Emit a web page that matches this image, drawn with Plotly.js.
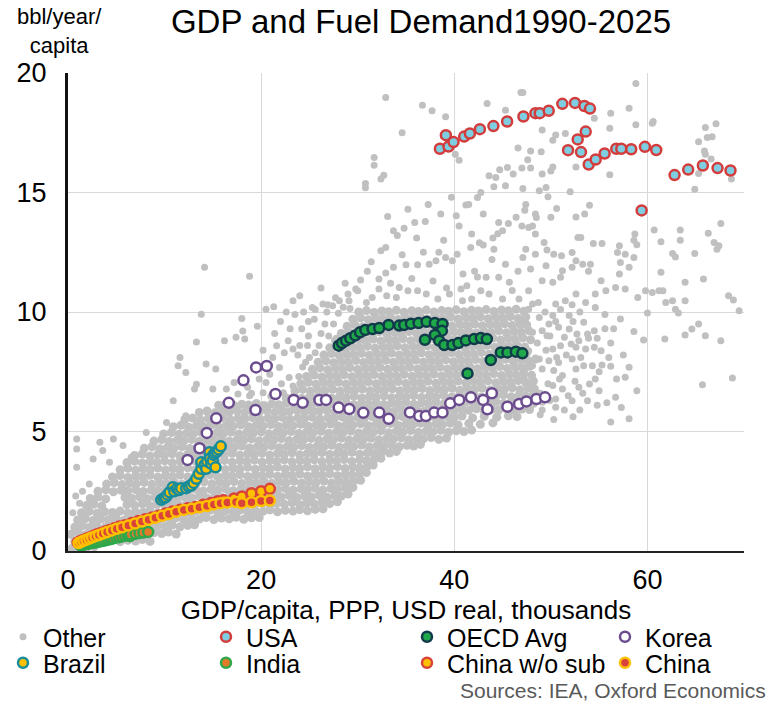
<!DOCTYPE html>
<html><head><meta charset="utf-8">
<script src="https://cdn.plot.ly/plotly-3.0.1.min.js"></script>
<style>html,body{margin:0;padding:0;background:#fff}#chart{width:771px;height:701px}</style>
</head><body><div id="chart"></div>
<script>
// ---------- DATA (GDP/capita thousands USD PPP, bbl/year/capita) ----------
// "Other" countries: dense core of the cloud
const otherCorePts = [
[0.4,.10],[1.1,.16],[1.9,.12],[2.7,.18],
[0.7,.40],[1.5,.46],[2.2,.38],[3.0,.44],[3.9,.41],[4.6,.47],[5.4,.39],[6.2,.45],[7.0,.42],[7.7,.48],[8.5,.40],
[0.3,.70],[1.1,.76],[1.8,.68],[2.6,.74],[3.5,.71],[4.2,.77],[5.0,.69],[5.8,.75],[6.6,.72],[7.3,.78],[8.1,.70],[8.9,.76],[9.7,.73],[10.4,.79],[11.2,.71],
[0.7,1.0],[1.5,1.06],[2.2,.98],[3.0,1.04],[3.9,1.01],[4.6,1.07],[5.4,.99],[6.2,1.05],[7.0,1.02],[7.7,1.08],[8.5,1.0],[9.3,1.06],[10.1,1.03],[10.8,1.09],[11.6,1.01],[12.4,1.07],[13.1,1.1],
[1.0,1.30],[1.8,1.36],[2.6,1.28],[3.4,1.34],[4.2,1.31],[5.0,1.37],[5.8,1.29],[6.6,1.35],[7.4,1.32],[8.1,1.38],[8.9,1.30],[9.7,1.36],[10.5,1.33],[11.2,1.39],[12.0,1.31],[12.8,1.37],[13.6,1.34],[14.3,1.40],[15.1,1.32],[15.9,1.38],[16.7,1.35],[17.4,1.41],[18.2,1.33],[19.0,1.39],[19.8,1.40],
[1.4,1.60],[2.2,1.66],[3.0,1.58],[3.8,1.64],[4.6,1.61],[5.4,1.67],[6.2,1.59],[7.0,1.65],[7.8,1.62],[8.5,1.68],[9.3,1.60],[10.1,1.66],[10.9,1.63],[11.6,1.69],[12.4,1.61],[13.2,1.67],[14.0,1.64],[14.7,1.70],[15.5,1.62],[16.3,1.68],[17.1,1.65],[17.8,1.71],[18.6,1.63],[19.4,1.69],[20.2,1.66],[20.9,1.72],[21.7,1.64],[22.5,1.70],[23.3,1.67],[24.0,1.73],[24.8,1.68],[25.6,1.74],[26.4,1.76],
[1.9,1.90],[2.7,1.96],[3.5,1.88],[6.1,1.94],[6.9,1.91],[7.7,1.97],[8.5,1.89],[9.2,1.95],[10.0,1.92],[10.8,1.98],[11.6,1.90],[12.3,1.96],[13.1,1.93],[13.9,1.99],[14.7,1.91],[15.4,1.97],[16.2,1.94],[17.0,2.0],[17.8,1.92],[18.5,1.98],[19.3,1.95],[20.1,2.01],[20.9,1.93],[21.6,1.99],[22.4,1.96],[23.2,2.02],[24.0,1.94],[24.7,2.0],[25.5,1.97],[26.3,2.03],[27.1,1.98],[27.9,2.06],
[2.3,2.20],[3.1,2.26],[3.9,2.18],[5.9,2.24],[6.6,2.21],[7.4,2.27],[8.2,2.19],[9.0,2.25],[9.7,2.22],[10.5,2.28],[11.3,2.20],[12.1,2.26],[12.8,2.23],[13.6,2.29],[14.4,2.21],[15.2,2.27],[15.9,2.24],[16.7,2.30],[17.5,2.22],[18.3,2.28],[19.0,2.25],[19.8,2.31],[20.6,2.23],[21.4,2.29],[22.1,2.26],[22.9,2.32],[23.7,2.24],[24.5,2.30],[25.2,2.27],[26.0,2.33],[26.8,2.25],[27.6,2.31],[28.3,2.30],[29.0,2.38],
[3.1,2.50],[3.9,2.56],[4.7,2.48],[5.5,2.54],[6.2,2.51],[7.0,2.57],[7.8,2.49],[8.6,2.55],[9.3,2.52],[10.1,2.58],[10.9,2.50],[11.7,2.56],[12.4,2.53],[13.2,2.59],[14.0,2.51],[14.8,2.57],[15.5,2.54],[16.3,2.60],[17.1,2.52],[17.9,2.58],[18.6,2.55],[19.4,2.61],[20.2,2.53],[21.0,2.59],[21.7,2.56],[22.5,2.62],[23.3,2.54],[24.1,2.60],[24.8,2.57],[25.6,2.63],[26.4,2.55],[27.2,2.61],[27.9,2.58],[28.7,2.64],[29.5,2.66],
[4.0,2.80],[4.8,2.86],[5.6,2.78],[6.4,2.84],[7.1,2.81],[7.9,2.87],[8.7,2.79],[9.5,2.85],[10.2,2.82],[11.0,2.88],[11.8,2.80],[12.6,2.86],[13.3,2.83],[14.1,2.89],[14.9,2.81],[15.7,2.87],[16.4,2.84],[17.2,2.90],[18.0,2.82],[18.8,2.88],[19.5,2.85],[20.3,2.91],[21.1,2.83],[21.9,2.89],[22.6,2.86],[23.4,2.92],[24.2,2.84],[25.0,2.90],[25.7,2.87],[26.5,2.93],[27.3,2.85],[28.1,2.91],[28.8,2.88],[29.6,2.94],[30.3,2.96],
[4.6,3.10],[5.4,3.16],[6.2,3.08],[7.0,3.14],[7.7,3.11],[8.5,3.17],[9.3,3.09],[10.1,3.15],[10.8,3.12],[11.6,3.18],[12.4,3.10],[13.2,3.16],[13.9,3.13],[14.7,3.19],[15.5,3.11],[16.3,3.17],[17.0,3.14],[17.8,3.20],[18.6,3.12],[19.4,3.18],[20.1,3.15],[20.9,3.21],[21.7,3.13],[22.5,3.19],[23.2,3.16],[24.0,3.22],[24.8,3.14],[25.6,3.20],[26.3,3.17],[27.1,3.23],[27.9,3.15],[28.7,3.21],[29.4,3.18],[30.2,3.24],[30.9,3.28],
[5.4,3.40],[6.2,3.46],[7.0,3.38],[7.8,3.44],[8.5,3.41],[9.3,3.47],[10.1,3.39],[10.9,3.45],[11.6,3.42],[12.4,3.48],[13.2,3.40],[14.0,3.46],[14.7,3.43],[15.5,3.49],[16.3,3.41],[17.1,3.47],[17.8,3.44],[18.6,3.50],[19.4,3.42],[20.2,3.48],[20.9,3.45],[21.7,3.51],[22.5,3.43],[23.3,3.49],[24.0,3.46],[24.8,3.52],[25.6,3.44],[26.4,3.50],[27.1,3.47],[27.9,3.53],[28.7,3.45],[29.5,3.51],[30.2,3.48],[31.0,3.54],[31.6,3.60],
[6.1,3.70],[6.9,3.76],[7.7,3.68],[8.5,3.74],[9.2,3.71],[10.0,3.77],[10.8,3.69],[11.6,3.75],[12.3,3.72],[13.1,3.78],[13.9,3.70],[14.7,3.76],[15.4,3.73],[16.2,3.79],[17.0,3.71],[17.8,3.77],[18.5,3.74],[19.3,3.80],[20.1,3.72],[20.9,3.78],[21.6,3.75],[22.4,3.81],[23.2,3.73],[24.0,3.79],[24.7,3.76],[25.5,3.82],[26.3,3.74],[27.1,3.80],[27.8,3.77],[28.6,3.83],[29.4,3.75],[30.2,3.81],[30.9,3.78],[31.7,3.84],[32.4,3.88],
[6.9,4.00],[7.7,4.06],[8.5,3.98],[9.3,4.04],[10.0,4.01],[10.8,4.07],[11.6,3.99],[12.4,4.05],[13.1,4.02],[13.9,4.08],[14.7,4.00],[15.5,4.06],[16.2,4.03],[17.0,4.09],[17.8,4.01],[18.6,4.07],[19.3,4.04],[20.1,4.10],[20.9,4.02],[21.7,4.08],[22.4,4.05],[23.2,4.11],[24.0,4.03],[24.8,4.09],[25.5,4.06],[26.3,4.12],[27.1,4.04],[27.9,4.10],[28.6,4.07],[29.4,4.13],[30.2,4.05],[31.0,4.11],[31.7,4.08],[32.5,4.14],[33.3,4.10],[34.0,4.16],
[7.9,4.30],[8.7,4.36],[9.5,4.28],[10.3,4.34],[11.0,4.31],[11.8,4.37],[12.6,4.29],[13.4,4.35],[14.1,4.32],[14.9,4.38],[15.7,4.30],[16.5,4.36],[17.2,4.33],[18.0,4.39],[18.8,4.31],[19.6,4.37],[20.3,4.34],[21.1,4.40],[21.9,4.32],[22.7,4.38],[23.4,4.35],[24.2,4.41],[25.0,4.33],[25.8,4.39],[26.5,4.36],[27.3,4.42],[28.1,4.34],[28.9,4.40],[29.6,4.37],[30.4,4.43],[31.2,4.35],[32.0,4.41],[32.7,4.38],[33.5,4.44],[34.3,4.36],[35.1,4.42],[35.8,4.39],[36.5,4.46],
[8.9,4.60],[9.7,4.66],[10.5,4.58],[11.3,4.64],[12.0,4.61],[12.8,4.67],[13.6,4.59],[14.4,4.65],[15.1,4.62],[15.9,4.68],[16.7,4.60],[17.5,4.66],[18.2,4.63],[19.0,4.69],[19.8,4.61],[20.6,4.67],[21.3,4.64],[22.1,4.70],[22.9,4.62],[23.7,4.68],[24.4,4.65],[25.2,4.71],[26.0,4.63],[26.8,4.69],[27.5,4.66],[28.3,4.72],[29.1,4.64],[29.9,4.70],[30.6,4.67],[31.4,4.73],[32.2,4.65],[33.0,4.71],[33.7,4.68],[34.5,4.74],[35.3,4.66],[36.1,4.72],[36.8,4.69],[37.6,4.75],[38.4,4.67],[39.2,4.73],
[9.9,4.90],[10.7,4.96],[11.5,4.88],[12.3,4.94],[13.0,4.91],[13.8,4.97],[14.6,4.89],[15.4,4.95],[16.1,4.92],[16.9,4.98],[17.7,4.90],[18.5,4.96],[19.2,4.93],[20.0,4.99],[20.8,4.91],[21.6,4.97],[22.3,4.94],[23.1,5.00],[23.9,4.92],[24.7,4.98],[25.4,4.95],[26.2,5.01],[27.0,4.93],[27.8,4.99],[28.5,4.96],[29.3,5.02],[30.1,4.94],[30.9,5.00],[31.6,4.97],[32.4,5.03],[33.2,4.95],[34.0,5.01],[34.7,4.98],[35.5,5.04],[36.3,4.96],[37.1,5.02],[37.8,4.99],[38.6,5.05],[39.4,4.97],[40.2,5.03],[41.0,5.00],[41.8,5.06],
[10.9,5.20],[11.7,5.26],[12.5,5.18],[13.3,5.24],[14.0,5.21],[14.8,5.27],[15.6,5.19],[16.4,5.25],[17.1,5.22],[17.9,5.28],[18.7,5.20],[19.5,5.26],[20.2,5.23],[21.0,5.29],[21.8,5.21],[22.6,5.27],[23.3,5.24],[24.1,5.30],[24.9,5.22],[25.7,5.28],[26.4,5.25],[27.2,5.31],[28.0,5.23],[28.8,5.29],[29.5,5.26],[30.3,5.32],[31.1,5.24],[31.9,5.30],[32.6,5.27],[33.4,5.33],[34.2,5.25],[35.0,5.31],[35.7,5.28],[36.5,5.34],[37.3,5.26],[38.1,5.32],[38.8,5.29],[39.6,5.35],[40.4,5.27],[41.5,5.33],[42.7,5.30],[44.0,5.36],
[12.1,5.50],[12.9,5.56],[13.7,5.48],[14.5,5.54],[15.2,5.51],[16.0,5.57],[16.8,5.49],[17.6,5.55],[18.3,5.52],[19.1,5.58],[19.9,5.50],[20.7,5.56],[21.4,5.53],[22.2,5.59],[23.0,5.51],[23.8,5.57],[24.5,5.54],[25.3,5.60],[26.1,5.52],[26.9,5.58],[27.6,5.55],[28.4,5.61],[29.2,5.53],[30.0,5.59],[30.7,5.56],[31.5,5.62],[32.3,5.54],[33.1,5.60],[33.8,5.57],[34.6,5.63],[35.4,5.55],[36.2,5.61],[36.9,5.58],[37.7,5.64],[38.5,5.56],[39.3,5.62],[40.0,5.59],[40.8,5.65],[41.9,5.57],[43.1,5.63],[44.4,5.60],[45.6,5.66],[46.5,5.62],
[13.6,5.80],[14.4,5.86],[15.2,5.78],[16.0,5.84],[16.7,5.81],[17.5,5.87],[18.3,5.79],[19.1,5.85],[19.8,5.82],[20.6,5.88],[21.4,5.80],[22.2,5.86],[22.9,5.83],[23.7,5.89],[24.5,5.81],[25.3,5.87],[26.0,5.84],[26.8,5.90],[27.6,5.82],[28.4,5.88],[29.1,5.85],[29.9,5.91],[30.7,5.83],[31.5,5.89],[32.2,5.86],[33.0,5.92],[33.8,5.84],[34.6,5.90],[35.3,5.87],[36.1,5.93],[36.9,5.85],[37.7,5.91],[38.4,5.88],[39.2,5.94],[40.0,5.86],[40.8,5.92],[41.5,5.89],[42.3,5.95],[43.1,5.87],[43.9,5.93],[44.6,5.90],[45.4,5.96],[46.2,5.88],[47.0,5.94],[47.8,5.92],
[15.6,6.10],[16.4,6.16],[17.2,6.08],[18.0,6.14],[18.7,6.11],[19.5,6.17],[20.3,6.09],[21.1,6.15],[21.8,6.12],[22.6,6.18],[23.4,6.10],[24.2,6.16],[24.9,6.13],[25.7,6.19],[26.5,6.11],[27.3,6.17],[28.0,6.14],[28.8,6.20],[29.6,6.12],[30.4,6.18],[31.1,6.15],[31.9,6.21],[32.7,6.13],[33.5,6.19],[34.2,6.16],[35.0,6.22],[35.8,6.14],[36.6,6.20],[37.3,6.17],[38.1,6.23],[38.9,6.15],[39.7,6.21],[40.4,6.18],[41.2,6.24],[42.0,6.16],[42.8,6.22],[43.5,6.19],[44.3,6.25],[45.1,6.17],[45.9,6.23],[46.6,6.20],[47.4,6.26],[48.2,6.18],
[22.6,6.40],[23.4,6.46],[24.2,6.38],[25.0,6.44],[25.7,6.41],[26.5,6.47],[27.3,6.39],[28.1,6.45],[28.8,6.42],[29.6,6.48],[30.4,6.40],[31.2,6.46],[31.9,6.43],[32.7,6.49],[33.5,6.41],[34.3,6.47],[35.0,6.44],[35.8,6.50],[36.6,6.42],[37.4,6.48],[38.1,6.45],[38.9,6.51],[39.7,6.43],[40.5,6.49],[41.2,6.46],[42.0,6.52],[42.8,6.44],[43.6,6.50],[44.3,6.47],[45.1,6.53],[45.9,6.45],[46.7,6.51],[47.4,6.48],[48.2,6.54],
[23.5,6.70],[24.3,6.76],[25.1,6.68],[25.9,6.74],[26.6,6.71],[27.4,6.77],[28.2,6.69],[29.0,6.75],[29.7,6.72],[30.5,6.78],[31.3,6.70],[32.1,6.76],[32.8,6.73],[33.6,6.79],[34.4,6.71],[35.2,6.77],[35.9,6.74],[36.7,6.80],[37.5,6.72],[38.3,6.78],[39.0,6.75],[39.8,6.81],[40.6,6.73],[41.4,6.79],[42.1,6.76],[42.9,6.82],[43.7,6.74],[44.5,6.80],[45.2,6.77],[46.0,6.83],[46.8,6.75],[47.6,6.81],[48.3,6.78],
[24.1,7.00],[24.9,7.06],[25.7,6.98],[26.5,7.04],[27.2,7.01],[28.0,7.07],[28.8,6.99],[29.6,7.05],[30.3,7.02],[31.1,7.08],[31.9,7.00],[32.7,7.06],[33.4,7.03],[34.2,7.09],[35.0,7.01],[35.8,7.07],[36.5,7.04],[37.3,7.10],[38.1,7.02],[38.9,7.08],[39.6,7.05],[40.4,7.11],[41.2,7.03],[42.0,7.09],[42.7,7.06],[43.5,7.12],[44.3,7.04],[45.1,7.10],[45.8,7.07],[46.6,7.13],[47.4,7.05],[48.2,7.11],
[24.7,7.30],[25.5,7.36],[26.3,7.28],[27.1,7.34],[27.8,7.31],[28.6,7.37],[29.4,7.29],[30.2,7.35],[30.9,7.32],[31.7,7.38],[32.5,7.30],[33.3,7.36],[34.0,7.33],[34.8,7.39],[35.6,7.31],[36.4,7.37],[37.1,7.34],[37.9,7.40],[38.7,7.32],[39.5,7.38],[40.2,7.35],[41.0,7.41],[41.8,7.33],[42.6,7.39],[43.3,7.36],[44.1,7.42],[44.9,7.34],[45.7,7.40],[46.4,7.37],[47.2,7.43],[48.0,7.35],
[25.3,7.60],[26.1,7.66],[26.9,7.58],[27.7,7.64],[28.4,7.61],[29.2,7.67],[30.0,7.59],[30.8,7.65],[31.5,7.62],[32.3,7.68],[33.1,7.60],[33.9,7.66],[34.6,7.63],[35.4,7.69],[36.2,7.61],[37.0,7.67],[37.7,7.64],[38.5,7.70],[39.3,7.62],[40.1,7.68],[40.8,7.65],[41.6,7.71],[42.4,7.63],[43.2,7.69],[43.9,7.66],[44.7,7.72],[45.5,7.64],[46.3,7.70],[47.0,7.67],[47.8,7.73],
[25.9,7.90],[26.7,7.96],[27.5,7.88],[28.3,7.94],[29.0,7.91],[29.8,7.97],[30.6,7.89],[31.4,7.95],[32.1,7.92],[32.9,7.98],[33.7,7.90],[34.5,7.96],[35.2,7.93],[36.0,7.99],[36.8,7.91],[37.6,7.97],[38.3,7.94],[39.1,8.00],[39.9,7.92],[40.7,7.98],[41.4,7.95],[42.2,8.01],[43.0,7.93],[43.8,7.99],[44.5,7.96],[45.3,8.02],[46.1,7.94],[46.9,8.00],[47.6,7.97],[48.4,8.03],
[26.5,8.20],[27.3,8.26],[28.1,8.18],[28.9,8.24],[29.6,8.21],[30.4,8.27],[31.2,8.19],[32.0,8.25],[32.7,8.22],[33.5,8.28],[34.3,8.20],[35.1,8.26],[35.8,8.23],[36.6,8.29],[37.4,8.21],[38.2,8.27],[38.9,8.24],[39.7,8.30],[40.5,8.22],[41.3,8.28],[42.0,8.25],[42.8,8.31],[43.6,8.23],[44.4,8.29],[45.1,8.26],[45.9,8.32],[46.7,8.24],[47.5,8.30],
[27.1,8.50],[27.9,8.56],[28.7,8.48],[29.5,8.54],[30.2,8.51],[31.0,8.57],[31.8,8.49],[32.6,8.55],[33.3,8.52],[34.1,8.58],[34.9,8.50],[35.7,8.56],[36.4,8.53],[37.2,8.59],[38.0,8.51],[38.8,8.57],[39.5,8.54],[40.3,8.60],[41.1,8.52],[41.9,8.58],[42.6,8.55],[43.4,8.61],[44.2,8.53],[45.0,8.59],[45.7,8.56],[46.5,8.62],[47.3,8.54],
[27.7,8.80],[28.5,8.86],[29.3,8.78],[30.1,8.84],[30.8,8.81],[31.6,8.87],[32.4,8.79],[33.2,8.85],[33.9,8.82],[34.7,8.88],[35.5,8.80],[36.3,8.86],[37.0,8.83],[37.8,8.89],[38.6,8.81],[39.4,8.87],[40.1,8.84],[40.9,8.90],[41.7,8.82],[42.5,8.88],[43.2,8.85],[44.0,8.91],[44.8,8.83],[45.6,8.89],[46.3,8.86],[47.1,8.92],[47.9,8.84],
[28.3,9.10],[29.1,9.16],[29.9,9.08],[30.7,9.14],[31.4,9.11],[32.2,9.17],[33.0,9.09],[33.8,9.15],[34.5,9.12],[35.3,9.18],[36.1,9.10],[36.9,9.16],[37.6,9.13],[38.4,9.19],[39.2,9.11],[40.0,9.17],[40.7,9.14],[41.5,9.20],[42.3,9.12],[43.1,9.18],[43.8,9.15],[44.6,9.21],[45.4,9.13],[46.2,9.19],[46.9,9.16],[47.7,9.22],
[28.9,9.40],[29.7,9.46],[30.5,9.38],[31.3,9.44],[32.0,9.41],[32.8,9.47],[33.6,9.39],[34.4,9.45],[35.1,9.42],[35.9,9.48],[36.7,9.40],[37.5,9.46],[38.2,9.43],[39.0,9.49],[39.8,9.41],[40.6,9.47],[41.3,9.44],[42.1,9.50],[42.9,9.42],[43.7,9.48],[44.4,9.45],[45.2,9.51],[46.0,9.43],[46.8,9.49],[47.5,9.46],
[29.5,9.70],[30.3,9.76],[31.1,9.68],[31.9,9.74],[32.6,9.71],[33.4,9.77],[34.2,9.69],[35.0,9.75],[35.7,9.72],[36.5,9.78],[37.3,9.70],[38.1,9.76],[38.8,9.73],[39.6,9.79],[40.4,9.71],[41.2,9.77],[41.9,9.74],[42.7,9.80],[43.5,9.72],[44.3,9.78],[45.0,9.75],[45.8,9.81],[46.6,9.73],[47.4,9.79],
[30.1,10.00],[30.9,10.06],[31.7,9.98],[32.5,10.04],[33.2,10.01],[34.0,10.07],[34.8,9.99],[35.6,10.05],[36.3,10.02],[37.1,10.08],[37.9,10.00],[38.7,10.06],[39.4,10.03],[40.2,10.09],[41.0,10.01],[41.8,10.07],[42.5,10.04],[43.3,10.10],[44.1,10.02],[44.9,10.08],[45.6,10.05],[46.4,10.11],[47.2,10.03]
];
// "Other" countries: scattered points outside the core
const otherScatterPts = [
[20.2,6.62],[21.0,6.48],[22.3,6.62],[21.6,8.59],[22.8,8.80],[23.3,8.45],[21.9,7.68],[22.9,7.26],[23.3,6.90],[20.5,7.05],[22.0,9.6],[23.5,9.9],[24.2,9.3],[24.8,8.6],[25.5,9.7],[26.2,9.1],[26.8,10.0],[27.5,9.5],[28.0,9.95],[25.0,8.1],[24.3,7.7],[23.8,8.2],[26.0,8.6],[27.0,9.0],[28.5,10.2],[29.2,10.15],[24.9,9.0],[25.6,8.3],[27.8,8.9],[26.6,9.5],[23.9,7.3],[24.6,7.9],
[19.8,7.2],[20.9,7.4],[21.2,8.1],[22.4,8.3],[22.1,7.0],[23.0,9.3],[24.0,8.6],[24.9,9.6],[25.6,10.1],[26.9,10.3],[27.7,10.6],[21.4,9.1],[20.2,8.4],[19.6,9.4],[22.6,10.0],[24.4,10.0],
[17.6,6.57],[18.6,6.85],[17.2,7.05],[16.4,6.78],[15.0,6.78],[18.8,6.5],[19.0,6.6],
[13.8,9.91],[18.0,9.73],[18.1,9.21],[17.4,8.94],[18.3,8.87],[16.2,8.8],[13.3,8.75],[11.6,8.10],[11.4,7.75],[12.2,7.47],[14.3,7.82],[15.3,7.61],[13.3,6.98],[13.1,6.78],[10.9,6.29],[20.3,6.08],[12.2,5.66],[10.2,5.38],[8.1,4.96],[5.7,4.41],[4.7,4.69],[3.3,4.55],[3.6,4.2],[0.9,4.69],[0.9,4.27],[0.9,3.5],[2.6,3.85],[4.3,3.71],[6.55,3.92],[14.14,11.87],[18.8,11.5],[21.3,10.22],[20.5,10.12],[0.8,2.3],[1.5,2.5],[2.2,2.8],[1.2,2.0],[0.5,1.6],
[32.9,18.97],[34.6,17.5],[31.7,16.46],[31.7,16.14],[32.4,15.56],[32.7,15.72],[30.8,15.38],[30.8,15.2],[36.7,18.65],[37.7,18.42],[39.1,18.17],[40.1,16.6],[40.5,16.35],[43.4,18.72],[45.3,18.44],[46.9,19.18],[46.6,16.86],[47.0,16.02],[43.6,15.70],[44.7,15.95],[44.3,15.63],[44.1,15.24],[45.3,15.28],[46.1,15.77],[45.5,16.05],[42.75,15.0],[42.4,14.79],[41.5,14.5],[41.2,14.48],[38.6,14.1],[40.2,14.03],[40.5,13.6],[37.0,13.79],[35.9,13.75],[34.8,13.5],[33.7,13.4],[34.1,13.2],[32.9,12.7],[32.4,12.56],[41.8,13.26],[42.6,12.9],[43.0,12.8],[41.7,12.7],[44.0,13.1],[44.5,13.27],[45.0,13.4],[45.6,13.7],[44.6,13.75],[46.4,13.96],[47.0,13.6],[44.1,12.63],[38.4,12.5],[38.1,12.14],[37.4,12.0],[36.2,11.98],[35.0,11.98],[33.7,11.87],[32.9,11.63],[32.2,11.38],[30.3,11.34],[29.8,10.96],[29.0,10.75],[28.1,10.47],[26.4,10.33],[24.0,10.68],[23.3,10.47],[39.1,12.28],[39.8,12.14],[40.3,12.42],[40.9,11.59],[42.1,11.7],[42.4,11.46],[43.3,11.45],[44.6,11.45],[45.7,11.24],[46.0,10.9],[46.7,10.54],[45.0,10.54],[43.6,10.75],[42.75,10.89],[41.8,10.54],[40.85,10.47],[40.7,10.96],[39.5,10.75],[38.3,10.54],[37.1,10.75],[36.2,10.89],[35.2,10.89],[34.3,11.03],[34.0,10.61],[33.0,10.68],[32.2,10.96],[31.5,10.61],[30.9,10.4],[30.0,10.89],[29.1,10.47],[27.4,10.26],[25.3,10.19],
[31.0,11.7],[33.4,11.2],[35.6,11.4],[37.8,11.3],[39.2,11.0],[41.3,11.1],[43.9,12.2],[45.3,12.0],[46.6,11.7],[36.8,12.5],[34.6,12.4],[31.4,12.1],[28.7,11.2],[26.2,11.0],[38.9,13.0],[36.1,13.1],[43.0,14.1],[39.7,14.8],[37.3,14.5],[35.2,14.3],[33.1,14.0],
[47.1,19.18],[58.8,19.56],[58.1,18.53],[56.2,18.32],[54.5,18.11],[58.8,17.83],[56.1,17.69],[60.6,17.97],[60.5,17.9],[51.5,17.47],[50.5,17.41],[50.2,17.19],[49.1,17.62],[47.9,16.74],[49.0,16.71],[47.6,16.37],[47.9,16.02],[49.1,15.77],[50.2,16.07],[50.0,15.9],[47.1,15.17],[48.8,15.07],[49.5,15.21],[49.7,14.82],[52.0,15.03],[52.6,16.07],[56.1,15.74],[65.3,17.12],[66.2,17.3],[66.7,17.33],[66.0,17.72],[67.1,17.88],[65.9,16.74],[66.0,16.6],[66.6,16.4],[65.3,15.79],[68.7,15.56],[64.9,15.14],[47.4,14.5],[47.3,14.26],[48.4,14.1],[48.5,13.95],[50.0,13.96],[50.6,14.33],[52.6,13.98],[53.5,14.1],[54.0,14.47],[47.7,13.54],[48.1,13.6],[48.4,13.26],[47.4,12.63],[47.1,12.28],[47.9,11.8],[48.4,12.42],[49.3,12.91],[49.6,12.59],[50.3,12.42],[51.1,12.35],[52.2,12.49],[52.8,13.12],[53.1,13.12],[54.4,12.87],[55.3,12.87],[52.6,12.14],[53.3,12.0],[54.1,12.0],[53.9,11.7],[52.2,11.87],[51.2,11.73],[51.0,11.45],[49.5,11.94],[49.1,11.31],[50.2,11.24],[47.7,10.89],[48.1,10.33],[50.5,10.33],[51.5,10.47],[52.6,10.75],[54.6,10.75],[55.2,11.31],[55.7,10.89],[56.9,12.49],[57.1,12.77],[57.7,12.42],[57.2,12.07],[58.1,11.87],[58.6,12.28],[58.7,13.26],[58.6,13.0],[58.9,12.81],[57.1,11.59],[56.7,11.03],[57.7,10.96],[59.0,10.61],[59.8,10.89],[60.5,10.82],[61.2,10.89],[61.6,10.89],[61.9,10.4],[62.6,10.47],[63.9,10.47],[60.7,13.43],[61.4,12.94],[62.6,12.45],[62.9,12.3],[63.4,13.43],[63.4,13.0],[64.9,12.45],[65.8,11.38],[66.3,13.29],[66.9,12.91],[67.4,12.77],[67.6,13.7],[67.2,12.63],[68.4,10.68],[68.9,10.5],[61.4,11.66],[63.9,11.24],
[47.7,10.12],[47.0,9.57],[48.8,9.77],[50.2,9.85],[51.9,9.85],[54.6,10.19],[53.4,9.57],[54.5,9.22],[53.8,9.08],[52.7,9.08],[51.9,9.29],[50.8,9.36],[49.8,9.5],[49.1,9.22],[48.1,9.15],[49.6,9.01],[51.4,8.94],[52.1,8.66],[51.0,8.59],[50.2,8.45],[52.6,8.52],[53.6,8.45],[54.5,8.52],[55.2,8.38],[53.1,8.1],[52.2,8.03],[50.8,7.89],[49.8,7.96],[48.8,8.03],[48.1,7.75],[49.1,7.62],[50.3,7.55],[51.2,7.34],[52.6,7.62],[53.4,7.75],[54.3,7.75],[55.3,7.78],[56.2,7.73],[58.1,7.69],[57.7,7.27],[54.0,6.99],[52.9,6.85],[51.2,6.78],[50.2,6.92],[58.9,6.71],[56.7,6.43],[53.8,6.29],[52.2,6.29],[50.5,6.01],[49.1,5.9],[52.3,5.62],[56.2,5.4],[58.1,5.53],[58.6,9.18],[59.6,8.83],[61.8,8.87],[63.9,9.04],[64.6,9.29],[65.3,9.5],[66.0,9.01],[67.6,8.8],[65.7,6.96],[68.8,7.24],[57.2,9.71],[60.0,9.96],[62.9,10.12],[63.2,9.96],[69.5,10.05],[47.7,8.38],[47.4,7.68],[47.2,7.27],[48.1,6.92],[50.5,6.36],[49.1,6.22],
[48.9,6.6],[49.7,7.0],[50.9,7.2],[51.8,6.5],[52.5,7.1],[53.3,6.6],[54.6,7.2],[55.0,6.7],[49.5,8.4],[50.6,8.1],[51.6,8.2],[52.9,8.8],[53.9,8.9],[54.8,8.9],[55.6,9.3],[56.2,8.7],[48.6,8.7],[49.9,9.0],[50.5,9.6],[52.3,9.6],[53.0,10.0],[55.6,9.9],[56.5,9.3],[48.7,10.4],[49.4,10.0],[51.0,10.1],[52.2,10.3],[53.6,10.4],[55.0,7.5],[56.8,7.2],[57.5,8.2],[56.0,8.1],[49.9,6.3],[51.4,5.9],[53.0,5.9],[54.8,6.1],[55.8,6.2],[57.3,6.0],[48.9,5.7],[50.3,5.5]
];

const usaPts = [[38.51,16.83],[39.13,17.40],[39.40,16.92],[39.92,17.11],[41.02,17.34],[41.61,17.47],[42.65,17.65],[44.05,17.78],[45.47,17.97],[47.16,18.18],[48.40,18.32],[48.85,18.32],[49.78,18.42],[51.19,18.71],[52.50,18.75],[53.47,18.62],[54.05,18.51],[53.61,17.55],[52.78,17.22],[51.78,16.77],[53.12,16.69],[53.92,16.17],[54.64,16.38],[55.57,16.63],[56.77,16.83],[57.29,16.83],[58.32,16.81],[59.74,16.91],[60.91,16.78],[59.40,14.25],[62.81,15.73],[64.22,15.96],[65.74,16.13],[67.26,16.02],[68.60,15.92]];

const oecdPts = [[28.03,8.59],[28.37,8.70],[28.79,8.80],[29.23,8.90],[29.75,9.02],[30.24,9.15],[30.79,9.25],[31.54,9.29],[32.23,9.33],[33.20,9.46],[34.30,9.43],[34.82,9.46],[35.51,9.51],[36.30,9.54],[37.13,9.59],[37.99,9.54],[38.78,9.50],[38.72,9.22],[37.99,9.04],[36.96,8.84],[38.44,8.80],[38.96,8.62],[39.81,8.62],[40.43,8.70],[41.20,8.81],[42.06,8.87],[42.75,8.91],[43.37,8.87],[41.37,7.43],[43.78,7.99],[44.82,8.31],[45.50,8.31],[46.37,8.34],[47.05,8.27]];

const koreaPts = [[12.38,3.81],[13.62,4.30],[14.37,4.94],[15.35,5.55],[16.65,6.20],[18.17,7.14],[19.48,7.68],[20.58,7.74],[19.41,5.90],[21.48,6.57],[23.37,6.32],[24.30,6.20],[26.03,6.32],[26.72,6.32],[28.03,6.00],[29.13,5.94],[30.58,5.78],[32.23,5.79],[33.20,5.53],[35.41,5.80],[36.37,5.65],[37.06,5.65],[37.92,5.79],[38.78,5.79],[39.58,6.18],[40.51,6.32],[41.72,6.43],[42.99,6.32],[43.89,6.60],[43.43,5.93],[45.50,6.04],[46.71,6.15],[47.47,6.26],[48.50,6.36],[49.40,6.43]];

const brazilPts = [[9.66,2.14],[9.9,2.2],[10.10,2.25],[10.3,2.35],[10.52,2.46],[10.86,2.67],[11.0,2.5],[11.27,2.60],[11.5,2.55],[11.72,2.63],[12.24,2.63],[12.5,2.7],[12.76,2.74],[13.0,2.85],[13.28,3.02],[13.55,3.23],[13.80,3.44],[13.80,3.71],[14.14,3.60],[14.31,3.44],[14.41,3.74],[14.65,4.13],[14.72,3.88],[14.83,3.65],[14.99,3.78],[15.07,4.02],[15.2,4.1],[15.27,3.50],[15.41,4.16],[15.6,4.25],[15.82,4.38]];

const indiaPts = [[1.3,0.24],[1.35,0.25],[1.45,0.25],[1.5,0.26],[1.6,0.27],[1.7,0.28],[1.8,0.29],[1.9,0.30],[2.0,0.31],[2.1,0.31],[2.2,0.32],[2.35,0.33],[2.5,0.34],[2.65,0.35],[2.8,0.36],[3.0,0.37],[3.2,0.39],[3.45,0.41],[3.7,0.43],[3.95,0.46],[4.2,0.48],[4.45,0.50],[4.7,0.53],[5.0,0.56],[5.3,0.58],[5.6,0.61],[5.9,0.64],[6.2,0.66],[6.4,0.62],[6.5,0.69],[7.0,0.72],[7.4,0.75],[7.8,0.77],[8.3,0.80]];

const chinaWoSubPts = [[1.0,0.36],[1.2,0.40],[1.45,0.44],[1.7,0.48],[2.0,0.53],[2.3,0.58],[2.65,0.64],[3.0,0.70],[3.4,0.75],[3.85,0.82],[4.3,0.88],[4.8,0.95],[5.3,1.02],[5.9,1.08],[6.6,1.17],[7.3,1.26],[8.0,1.33],[8.7,1.40],[9.4,1.48],[10.1,1.57],[10.8,1.65],[11.6,1.73],[12.4,1.79],[13.2,1.84],[14.0,1.93],[14.8,2.01],[15.5,2.08],[16.1,2.12],[17.2,2.20],[18.0,2.28],[19.0,2.42],[20.0,2.50],[20.9,2.60]];

const chinaPts = [[1.1,0.33],[1.35,0.38],[1.6,0.43],[1.9,0.47],[2.2,0.52],[2.5,0.57],[2.85,0.62],[3.2,0.67],[3.6,0.73],[4.05,0.79],[4.55,0.86],[5.05,0.93],[5.6,0.99],[6.25,1.07],[6.95,1.15],[7.65,1.23],[8.35,1.31],[9.05,1.39],[9.75,1.47],[10.45,1.55],[11.2,1.64],[12.0,1.72],[12.8,1.77],[13.6,1.83],[14.4,1.88],[15.1,1.95],[15.8,2.00],[16.5,2.03],[17.4,2.05],[18.0,2.00],[19.0,2.04],[20.0,2.09],[20.9,2.11]];

const xTicks = [0, 20, 40, 60];
const yTicks = [0, 5, 10, 15, 20];

// ---------- CHART ----------
const FONT = 'Liberation Sans, Arial, Helvetica, sans-serif';
const L = 68, T = 73, PW = 676, PH = 478; // plot area in px
const px2x = px => (px - L) / PW;
const py2y = py => (T + PH - py) / PH;

const defs = [
  {name:'Other', pts:otherCorePts, fill:'#c0c0c0', line:'#c0c0c0', lw:0, size:9, legend:'legend', show:false},
  {name:'Other', pts:otherScatterPts, fill:'#c0c0c0', line:'#c0c0c0', lw:0, size:7, legend:'legend', show:true},
  {name:'India', pts:indiaPts, fill:'#e27a2a', line:'#2ea84a', lw:2.5, size:10, legend:'legend6', show:true},
  {name:'China w/o sub', pts:chinaWoSubPts, fill:'#ffc000', line:'#d9433b', lw:2.5, size:10, legend:'legend7', show:true},
  {name:'China', pts:chinaPts, fill:'#d9433b', line:'#ffc000', lw:2.5, size:10, legend:'legend8', show:true},
  {name:'Brazil', pts:brazilPts, fill:'#ffc000', line:'#178c9c', lw:2.5, size:10, legend:'legend5', show:true},
  {name:'Korea', pts:koreaPts, fill:'#ffffff', line:'#6b4c8e', lw:2.5, size:10, legend:'legend4', show:true},
  {name:'OECD Avg', pts:oecdPts, fill:'#1ea84a', line:'#113a4a', lw:2.5, size:10, legend:'legend3', show:true},
  {name:'USA', pts:usaPts, fill:'#7ecde0', line:'#d43c3c', lw:2.5, size:10, legend:'legend2', show:true}
];
const data = defs.map(d => ({
  type:'scatter', mode:'markers', name:d.name, showlegend:d.show, legendgroup:d.name,
  x:d.pts.map(p=>p[0]), y:d.pts.map(p=>p[1]),
  marker:{size:d.size, color:d.fill, line:{color:d.line, width:d.lw}},
  legend:d.legend, cliponaxis:false, hoverinfo:'x+y+name'
}));

function leg(textStartPx, rowPy){
  return {x:px2x(textStartPx - 37), y:py2y(rowPy), xref:'paper', yref:'paper',
    xanchor:'left', yanchor:'middle', orientation:'h', bgcolor:'rgba(0,0,0,0)',
    borderwidth:0, itemwidth:30, font:{family:FONT, size:25, color:'#000'}};
}

const layout = {
  width:771, height:701,
  margin:{l:L, r:771-L-PW, t:T, b:701-T-PH, autoexpand:false},
  paper_bgcolor:'#fff', plot_bgcolor:'#fff',
  font:{family:FONT, color:'#000'},
  title:{text:'GDP and Fuel Demand1990-2025', font:{family:FONT, size:33, color:'#000'},
         xref:'container', yref:'container', x:421/771, y:1-21/701, xanchor:'center', yanchor:'middle'},
  xaxis:{range:[0,70], tickvals:xTicks, ticktext:xTicks.map(String), showgrid:true, gridcolor:'#d9d9d9', gridwidth:1,
         showline:true, linecolor:'#222', linewidth:2, zeroline:false, ticks:'', ticklabelstandoff:4,
         tickfont:{family:FONT, size:27, color:'#000'},
         title:{text:'GDP/capita, PPP, USD real, thousands', font:{family:FONT, size:26, color:'#000'}, standoff:2}},
  yaxis:{range:[0,20], tickvals:yTicks, ticktext:yTicks.map(String), showgrid:true, gridcolor:'#d9d9d9', gridwidth:1,
         showline:true, linecolor:'#111', linewidth:3, zeroline:false, ticks:'', ticklabelstandoff:13,
         tickfont:{family:FONT, size:27, color:'#000'}},
  showlegend:true,
  legend:leg(40,637), legend2:leg(243,637), legend3:leg(444,637), legend4:leg(642,637),
  legend5:leg(40,663), legend6:leg(243,663), legend7:leg(444,663), legend8:leg(642,663),
  annotations:[
    {text:'bbl/year/<br>capita', xref:'paper', yref:'paper', x:px2x(59), y:py2y(31), xanchor:'center', yanchor:'middle',
     showarrow:false, align:'center', font:{family:FONT, size:22, color:'#000'}},
    {text:'Sources: IEA, Oxford Economics', xref:'paper', yref:'paper', x:px2x(768), y:py2y(690), xanchor:'right', yanchor:'middle',
     showarrow:false, font:{family:FONT, size:21, color:'#595959'}}
  ]
};

Plotly.newPlot('chart', data, layout, {displayModeBar:false, staticPlot:true});
</script>
</body></html>
